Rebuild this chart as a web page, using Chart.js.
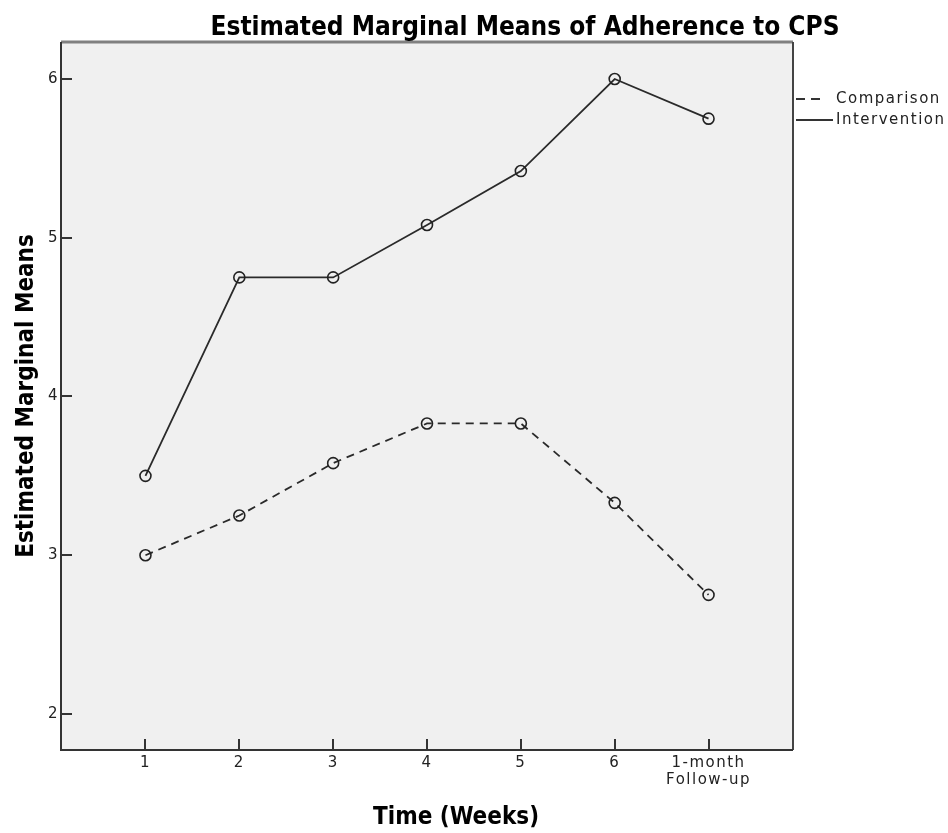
<!DOCTYPE html>
<html>
<head>
<meta charset="utf-8">
<script src="https://cdn.jsdelivr.net/npm/chart.js@4.4.1/dist/chart.umd.min.js"></script>
<style>
  html, body { margin: 0; padding: 0; background: #fff; }
  canvas { display: block; }
</style>
</head>
<body>
<canvas id="grafico-medias" width="948" height="833"></canvas>
<script>
// Datos
const weekPositions = [1, 2, 3, 4, 5, 6, 7];
const weekLabels = ['1', '2', '3', '4', '5', '6', ['1-month', 'Follow-up']];
const comparisonMeans = [3.00, 3.25, 3.58, 3.83, 3.83, 3.33, 2.75];
const interventionMeans = [3.50, 4.75, 4.75, 5.08, 5.42, 6.00, 5.75];
const meanTicks = [2, 3, 4, 5, 6];
const seriesNames = ['Comparison', 'Intervention'];
const chartTitle = 'Estimated Marginal Means of Adherence to CPS';
const xTitle = 'Time (Weeks)';
const yTitle = 'Estimated Marginal Means';

const boldFont = 'bold 24px "DejaVu Sans Condensed", "DejaVu Sans", sans-serif';

// Fondo gris, marco, marcas hacia dentro, titulos y leyenda
const marcoPlugin = {
    id: 'marco',
    beforeDraw(chart) {
        const ctx = chart.ctx;
        const a = chart.chartArea;
        ctx.fillStyle = '#f0f0f0';
        ctx.fillRect(a.left, a.top, a.right - a.left, a.bottom - a.top);
        ctx.letterSpacing = '1.5px';
    },
    afterDraw(chart) {
        const ctx = chart.ctx;
        const a = chart.chartArea;
        ctx.save();
        ctx.letterSpacing = '0px';
        ctx.lineCap = 'butt';

        // marco
        ctx.strokeStyle = '#808080';
        ctx.lineWidth = 3;
        ctx.beginPath(); ctx.moveTo(a.left, a.top); ctx.lineTo(a.right, a.top); ctx.stroke();
        ctx.strokeStyle = '#444';
        ctx.lineWidth = 2;
        ctx.beginPath(); ctx.moveTo(a.right, a.top); ctx.lineTo(a.right, a.bottom); ctx.stroke();
        ctx.strokeStyle = '#333';
        ctx.beginPath(); ctx.moveTo(a.left, a.top); ctx.lineTo(a.left, a.bottom); ctx.lineTo(a.right, a.bottom); ctx.stroke();

        // marcas de los ejes
        const xs = chart.scales.x, ys = chart.scales.y;
        ctx.beginPath();
        xs.ticks.forEach(t => {
            const px = Math.round(xs.getPixelForValue(t.value));
            ctx.moveTo(px, a.bottom); ctx.lineTo(px, a.bottom - 11);
        });
        ys.ticks.forEach(t => {
            const py = Math.round(ys.getPixelForValue(t.value));
            ctx.moveTo(a.left, py); ctx.lineTo(a.left + 11, py);
        });
        ctx.stroke();

        // titulos
        ctx.fillStyle = '#000';
        ctx.textAlign = 'center';
        ctx.textBaseline = 'alphabetic';
        ctx.font = 'bold 26px "DejaVu Sans Condensed", "DejaVu Sans", sans-serif';
        ctx.fillText(chartTitle, 525, 35);
        ctx.font = boldFont;
        ctx.fillText(xTitle, 456, 824);
        ctx.save();
        ctx.translate(33, (a.top + a.bottom) / 2);
        ctx.rotate(-Math.PI / 2);
        ctx.fillText(yTitle, 0, 0);
        ctx.restore();

        // leyenda
        ctx.letterSpacing = '1.5px';
        ctx.font = '15px "DejaVu Sans", sans-serif';
        ctx.textAlign = 'left';
        ctx.textBaseline = 'middle';
        chart.data.datasets.forEach((ds, i) => {
            const y = 99 + i * 21;
            ctx.strokeStyle = '#333';
            ctx.lineWidth = 2;
            ctx.setLineDash(i === 0 ? [9, 6] : []);
            ctx.beginPath();
            ctx.moveTo(796, y); ctx.lineTo(i === 0 ? 820 : 833, y);
            ctx.stroke();
            ctx.setLineDash([]);
            ctx.fillStyle = '#222';
            ctx.fillText(ds.label, 836, y);
        });
        ctx.restore();
    }
};

const ctxMedias = document.getElementById('grafico-medias').getContext('2d');

new Chart(ctxMedias, {
    type: 'line',
    data: {
        datasets: [{
            label: seriesNames[0],
            data: weekPositions.map((x, i) => ({ x: x, y: comparisonMeans[i] })),
            borderColor: '#2a2a2a',
            borderWidth: 1.8,
            borderDash: [8, 6],
            fill: false,
            tension: 0,
            pointRadius: 5.5,
            pointBorderWidth: 1.6,
            pointBorderColor: '#222',
            pointBackgroundColor: 'rgba(0,0,0,0)'
        }, {
            label: seriesNames[1],
            data: weekPositions.map((x, i) => ({ x: x, y: interventionMeans[i] })),
            borderColor: '#2a2a2a',
            borderWidth: 1.8,
            fill: false,
            tension: 0,
            pointRadius: 5.5,
            pointBorderWidth: 1.6,
            pointBorderColor: '#222',
            pointBackgroundColor: 'rgba(0,0,0,0)'
        }]
    },
    options: {
        responsive: false,
        animation: false,
        devicePixelRatio: 1,
        layout: {
            padding: { left: 0, top: 42, right: 155, bottom: 0 }
        },
        plugins: {
            legend: { display: false },
            title: { display: false },
            tooltip: { enabled: false }
        },
        scales: {
            x: {
                type: 'linear',
                min: 0.1,
                max: 7.9,
                afterBuildTicks: (scale) => {
                    scale.ticks = weekPositions.map(v => ({ value: v }));
                },
                afterFit: (scale) => { scale.height = 83; },
                grid: { display: false, drawTicks: false },
                border: { display: false },
                ticks: {
                    autoSkip: false,
                    maxRotation: 0,
                    padding: 5,
                    color: '#222',
                    font: { family: '"DejaVu Sans", sans-serif', size: 15, lineHeight: 1.1 },
                    callback: (value) => weekLabels[weekPositions.indexOf(value)]
                }
            },
            y: {
                type: 'linear',
                min: 1.773,
                max: 6.233,
                afterBuildTicks: (scale) => {
                    scale.ticks = meanTicks.map(v => ({ value: v }));
                },
                afterFit: (scale) => { scale.width = 61; },
                grid: { display: false, drawTicks: false },
                border: { display: false },
                ticks: {
                    padding: 2,
                    color: '#222',
                    font: { family: '"DejaVu Sans", sans-serif', size: 15 }
                }
            }
        }
    },
    plugins: [marcoPlugin]
});
</script>
</body>
</html>
